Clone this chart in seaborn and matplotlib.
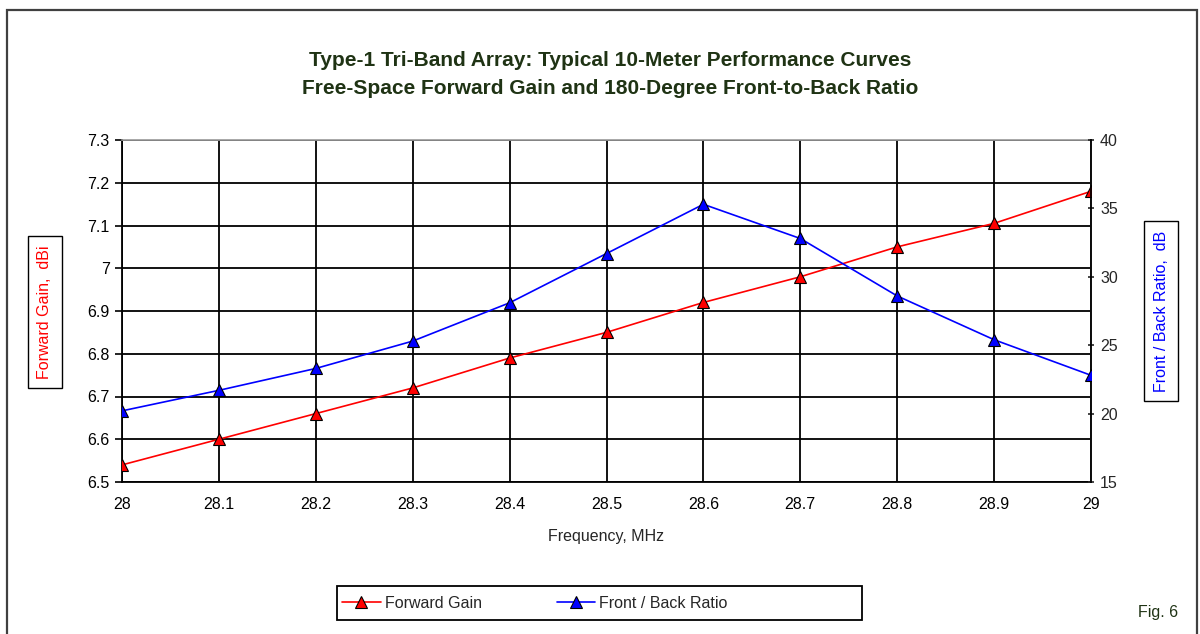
import numpy as np
import pandas as pd
import matplotlib
matplotlib.use("Agg")
import matplotlib.pyplot as plt
import seaborn as sns
from matplotlib.patches import Rectangle
from matplotlib.lines import Line2D


# --- DATA ---
FREQ_MHZ = [28.0, 28.1, 28.2, 28.3, 28.4, 28.5, 28.6, 28.7, 28.8, 28.9, 29.0]
FORWARD_GAIN = [6.54, 6.60, 6.66, 6.72, 6.79, 6.85, 6.92, 6.98, 7.05, 7.105, 7.18]
FRONT_BACK = [20.2, 21.7, 23.3, 25.3, 28.1, 31.7, 35.3, 32.8, 28.6, 25.4, 22.8]

GAIN_TICKS = [6.5, 6.6, 6.7, 6.8, 6.9, 7.0, 7.1, 7.2, 7.3]
GAIN_LABELS = ["6.5", "6.6", "6.7", "6.8", "6.9", "7", "7.1", "7.2", "7.3"]
FB_TICKS = [15, 20, 25, 30, 35, 40]
FREQ_LABELS = ["28", "28.1", "28.2", "28.3", "28.4", "28.5", "28.6", "28.7", "28.8", "28.9", "29"]

TITLE = ("Type-1 Tri-Band Array: Typical 10-Meter Performance Curves\n"
         "Free-Space Forward Gain and 180-Degree Front-to-Back Ratio")

# --- STYLE ---
sns.set_style("white")
plt.rcParams["font.family"] = ["Liberation Sans", "DejaVu Sans"]
DARK_GREEN = "#1f3314"
FS = 11.5
W, H = 1200, 634

df = pd.DataFrame({"freq": FREQ_MHZ, "gain": FORWARD_GAIN, "fb": FRONT_BACK})

fig = plt.figure(figsize=(12, 6.34), dpi=100)
ax = fig.add_axes([122 / W, 1 - 482 / H, (1091 - 122) / W, (482 - 140) / H])
ax2 = ax.twinx()

# outer frame of the chart sheet
fig.patches.append(Rectangle((7 / W, -0.05), (1197 - 7) / W, 1.05 - 10 / H,
                             transform=fig.transFigure, fill=False,
                             edgecolor="#404040", linewidth=1.6, zorder=0))

marker_kw = dict(marker="^", markersize=9, markeredgecolor="black", markeredgewidth=0.8)
sns.lineplot(data=df, x="freq", y="gain", ax=ax, color="red", linewidth=1.2,
             markerfacecolor="red", zorder=5, **marker_kw)
sns.lineplot(data=df, x="freq", y="fb", ax=ax2, color="blue", linewidth=1.2,
             markerfacecolor="blue", zorder=5, **marker_kw)

# left axis
ax.set_xlim(28, 29)
ax.set_ylim(6.5, 7.3)
ax.set_xticks(FREQ_MHZ)
ax.set_xticklabels(FREQ_LABELS)
ax.set_yticks(GAIN_TICKS)
ax.set_yticklabels(GAIN_LABELS)
ax.grid(True, color="black", linewidth=1.3)
ax.set_axisbelow(True)
ax.tick_params(axis="both", labelsize=FS, colors="black", length=5, width=1.2,
               direction="out", pad=4)
ax.tick_params(axis="x", pad=6)
for side in ["top", "right"]:
    ax.spines[side].set_color("#9a9a9a")
    ax.spines[side].set_linewidth(1.2)
for side in ["left", "bottom"]:
    ax.spines[side].set_color("black")
    ax.spines[side].set_linewidth(1.3)
ax.set_xlabel("Frequency, MHz", fontsize=FS, labelpad=12)
ax.set_ylabel("")

# right axis
ax2.set_ylim(15, 40)
ax2.set_yticks(FB_TICKS)
ax2.tick_params(axis="y", labelsize=FS, length=5, width=1.2, direction="inout", pad=4)
ax2.spines["right"].set_color("black")
ax2.spines["right"].set_linewidth(1.3)
for side in ["top", "left", "bottom"]:
    ax2.spines[side].set_visible(False)
ax2.set_ylabel("")
ax2.grid(False)

# boxed axis titles
box_kw = dict(boxstyle="square,pad=0.6", facecolor="white", edgecolor="black", linewidth=1)
fig.text(45 / W, 1 - 312 / H, "Forward Gain,  dBi", rotation=90, color="red",
         fontsize=FS, ha="center", va="center", bbox=box_kw)
fig.text(1161 / W, 1 - 311 / H, "Front / Back Ratio,  dB", rotation=90, color="blue",
         fontsize=FS, ha="center", va="center", bbox=box_kw)

# title
fig.text(610 / W, 1 - 74 / H, TITLE, ha="center", va="center", fontsize=15,
         fontweight="bold", color=DARK_GREEN, linespacing=1.6)

# legend (frame drawn separately, Excel-style wide box)
handles = [
    Line2D([], [], color="red", linewidth=1.2, markerfacecolor="red", **marker_kw),
    Line2D([], [], color="blue", linewidth=1.2, markerfacecolor="blue", **marker_kw),
]
fig.legend(handles, ["Forward Gain", "Front / Back Ratio"], ncol=2,
           loc="center left", bbox_to_anchor=(339 / W, 1 - 603 / H),
           fontsize=FS, frameon=False, handlelength=2.4, handletextpad=0.25,
           columnspacing=4.7, borderpad=0.2, borderaxespad=0)
fig.patches.append(Rectangle((337 / W, 1 - 620 / H), (862 - 337) / W, 34 / H,
                             transform=fig.transFigure, fill=False,
                             edgecolor="black", linewidth=1.3))

fig.text(1158 / W, 1 - 612 / H, "Fig. 6", ha="center", va="center", fontsize=FS,
         color=DARK_GREEN)

fig.savefig("out.png", dpi=100)
